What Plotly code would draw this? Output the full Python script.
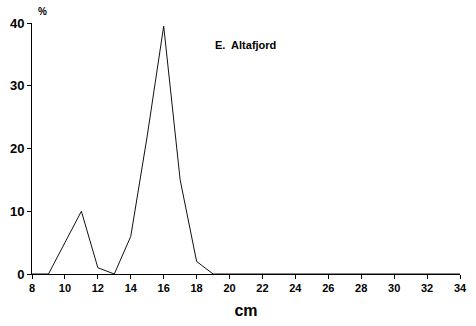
import plotly.graph_objects as go

# Length-frequency distribution, Altafjord
length_cm = [8, 9, 10, 11, 12, 13, 14, 15, 16, 17, 18, 19, 20, 22, 24, 26, 28, 30, 32, 34]
percent = [0, 0, 5, 10, 1, 0, 6, 22, 39.5, 15, 2, 0, 0, 0, 0, 0, 0, 0, 0, 0]

x_ticks = list(range(8, 35, 2))
y_ticks = [0, 10, 20, 30, 40]

FONT = "Liberation Sans, Arial, sans-serif"

fig = go.Figure()
fig.add_trace(go.Scatter(
    x=length_cm, y=percent, mode="lines",
    line=dict(color="#111111", width=1),
    hoverinfo="skip", showlegend=False,
))

fig.update_layout(
    width=476, height=326,
    margin=dict(l=32, r=9, t=23, b=52),
    paper_bgcolor="white", plot_bgcolor="white",
    font=dict(family=FONT, color="black"),
    xaxis=dict(
        range=[8, 34], tickvals=x_ticks, ticktext=[str(v) for v in x_ticks],
        showgrid=False, zeroline=False, showline=True, linecolor="black", linewidth=1,
        ticks="outside", ticklen=4, tickcolor="black",
        tickfont=dict(size=11, family=FONT, weight="bold"),
        title=dict(text="<b>cm</b>", font=dict(size=16, family=FONT), standoff=11),
    ),
    yaxis=dict(
        range=[0, 40], tickvals=y_ticks, ticktext=[str(v) for v in y_ticks],
        showgrid=False, zeroline=False, showline=True, linecolor="black", linewidth=1,
        ticks="outside", ticklen=4, tickcolor="black",
        tickfont=dict(size=13, family=FONT, weight="bold"),
    ),
    annotations=[
        dict(text="<b>%</b>", xref="paper", yref="paper", x=0.0, y=1.0,
             xanchor="left", yanchor="bottom", xshift=4, yshift=4,
             showarrow=False, font=dict(size=10, family=FONT)),
        dict(text="<b>E.  Altafjord</b>", xref="x", yref="y", x=19.0, y=36.5,
             xanchor="left", yanchor="middle",
             showarrow=False, font=dict(size=11, family=FONT)),
    ],
)

fig.write_html("out.html")
